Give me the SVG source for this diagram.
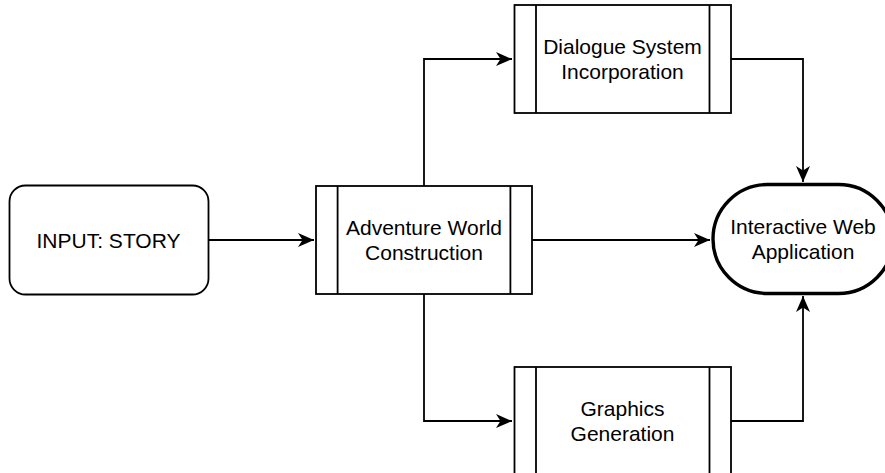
<svg xmlns="http://www.w3.org/2000/svg" width="885" height="473" viewBox="0 0 885 473">
<defs>
<style>
.box{fill:#fff;stroke:#000;stroke-width:1.8}
.bar{fill:none;stroke:#000;stroke-width:1.8}
.term{fill:#fff;stroke:#000;stroke-width:3.4}
.edge{fill:none;stroke:#000;stroke-width:1.8}
text{font-family:"Liberation Sans",Arial,Helvetica,sans-serif;font-size:21px;fill:#000;text-anchor:middle}
</style>
<marker id="arr" markerUnits="userSpaceOnUse" markerWidth="18" markerHeight="16" refX="16" refY="7.5" orient="auto">
<path d="M0,0.5 L16,7.5 L0,14.5 L4.5,7.5 Z" fill="#000"/>
</marker>
</defs>
<rect width="885" height="473" fill="#fff"/>
<g id="connectors">
<path class="edge" d="M208,240 H314" marker-end="url(#arr)"/>
<path class="edge" d="M424,186 V59 H512" marker-end="url(#arr)"/>
<path class="edge" d="M424,294 V421 H512" marker-end="url(#arr)"/>
<path class="edge" d="M532,240 H710" marker-end="url(#arr)"/>
<path class="edge" d="M731,59 H803 V182" marker-end="url(#arr)"/>
<path class="edge" d="M731,421 H803 V296" marker-end="url(#arr)"/>
</g>
<g id="input">
<rect class="box" x="9.5" y="185.5" width="199" height="109" rx="16" ry="16"/>
<text x="108.5" y="247.5">INPUT: STORY</text>
</g>
<g id="adventure">
<rect class="box" x="316" y="186" width="216" height="108"/>
<path class="bar" d="M337.6,186 V294 M510.4,186 V294"/>
<text x="424" y="234.5">Adventure World</text>
<text x="424" y="259.5">Construction</text>
</g>
<g id="dialogue">
<rect class="box" x="514.5" y="5" width="216.5" height="108"/>
<path class="bar" d="M536,5 V113 M709.5,5 V113"/>
<text x="622.5" y="53.5">Dialogue System</text>
<text x="622.5" y="78.5">Incorporation</text>
</g>
<g id="graphics">
<rect class="box" x="514.5" y="367" width="216.5" height="108"/>
<path class="bar" d="M536,367 V475 M709.5,367 V475"/>
<text x="622.5" y="415.5">Graphics</text>
<text x="622.5" y="440.5">Generation</text>
</g>
<g id="webapp">
<rect class="term" x="713" y="184.5" width="180" height="109" rx="54.5" ry="54.5"/>
<text x="803" y="233.5">Interactive Web</text>
<text x="803" y="258.5">Application</text>
</g>
</svg>
